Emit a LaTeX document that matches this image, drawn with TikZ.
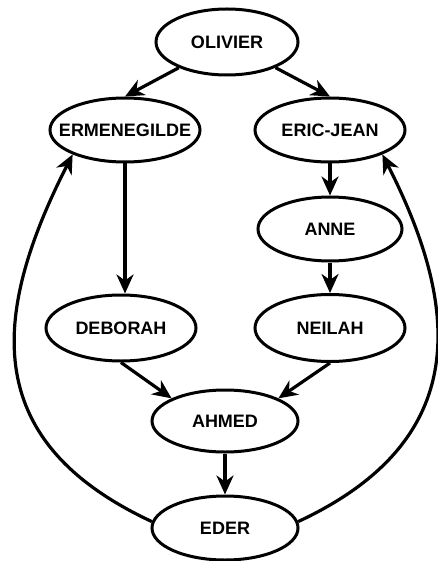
\documentclass[tikz,border=0pt]{standalone}
\usepackage{fontspec}
\setmainfont{Liberation Sans}
\usetikzlibrary{shapes.geometric,arrows.meta}

\tikzset{
    person/.style={draw=black, line width=3pt, ellipse, fill=white,
        minimum width=148pt, minimum height=64pt,
        inner xsep=-30pt, inner ysep=0pt,
        font=\bfseries\fontsize{18}{20}\selectfont},
    link/.style={line width=3.2pt, -{Stealth[length=19pt,width=17pt,inset=6pt]}}
}

\begin{document}
\begin{tikzpicture}[x=1pt,y=-1pt]
            \useasboundingbox (0,0) rectangle (437,561);

            % family tree nodes
            \node (olivier) at (227,42) [person, minimum width=142pt, minimum height=66pt] {OLIVIER};
            \node (erm) at (125,130) [person, minimum width=150pt] {ERMENEGILDE};
            \node (eric) at (330,130) [person, minimum width=150pt] {ERIC-JEAN};
            \node (anne) at (330,229) [person, minimum width=144pt] {ANNE};
            \node (deb) at (121,328) [person, minimum width=150pt, minimum height=66pt] {DEBORAH};
            \node (neilah) at (330,328) [person, minimum width=150pt, minimum height=67pt] {NEILAH};
            \node (ahmed) at (225,421) [person, minimum width=146pt, minimum height=62pt] {AHMED};
            \node (eder) at (225,528) [person, minimum width=146pt] {EDER};

            % straight links
            \draw[link] (olivier) -- (erm.north);
            \draw[link] (olivier) -- (eric.north);
            \draw[link] (erm.south) -- (erm.south |- deb.north);
            \draw[link] (eric) -- (anne);
            \draw[link] (anne) -- (neilah);
            \draw[link] (deb.south) -- (ahmed.157);
            \draw[link] (neilah.south) -- (ahmed.23);
            \draw[link] (ahmed) -- (eder);

            % back links
            \draw[link] (eder.175) to[out=155, in=243, looseness=1.27] (erm.205);
            \draw[link] (eder.5) to[out=25, in=297, looseness=1.25] (eric.335);
        \end{tikzpicture}
\end{document}
